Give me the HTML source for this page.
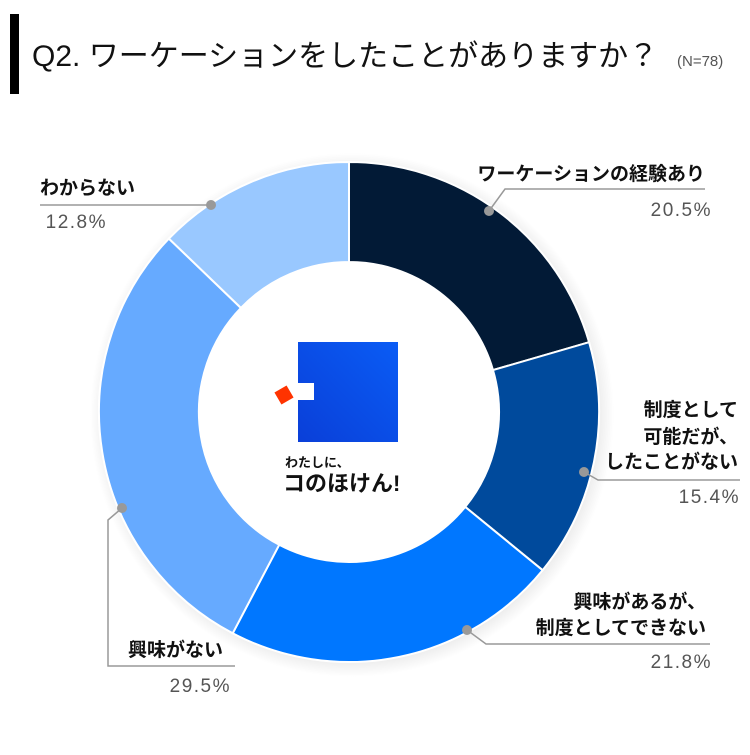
<!DOCTYPE html>
<html><head><meta charset="utf-8"><style>
body{margin:0;background:#fff;width:750px;height:750px;overflow:hidden}
svg text{font-family:"Liberation Sans","Noto Sans CJK JP",sans-serif}
</style></head><body>
<svg width="750" height="750" viewBox="0 0 750 750">
<rect x="10" y="14" width="9" height="80" fill="#000"/>
<text x="32" y="66" font-size="30" fill="#111">Q2. ワーケーションをしたことがありますか？</text>
<text x="677" y="66" font-size="15" fill="#555">(N=78)</text>
<defs><radialGradient id="sh" cx="0.5" cy="0.5" r="0.5"><stop offset="0.9" stop-color="#000" stop-opacity="0.12"/><stop offset="1" stop-color="#000" stop-opacity="0"/></radialGradient>
<linearGradient id="lg" x1="0" y1="1" x2="1" y2="0"><stop offset="0" stop-color="#0a3fd8"/><stop offset="1" stop-color="#0a5cf5"/></linearGradient></defs>
<circle cx="352" cy="415" r="262" fill="url(#sh)"/>
<circle cx="349" cy="412" r="151" fill="#fff"/>
<g stroke="#fff" stroke-width="2">
<path d="M349,162 A250,250 0 0 1 589.1,342.2 L493,370.1 A150,150 0 0 0 349,262 Z" fill="#021a36"/>
<path d="M589.1,342.2 A250,250 0 0 1 542.6,570.2 L465.2,506.9 A150,150 0 0 0 493,370.1 Z" fill="#004a9c"/>
<path d="M542.6,570.2 A250,250 0 0 1 232.7,633.3 L279.2,544.8 A150,150 0 0 0 465.2,506.9 Z" fill="#0077ff"/>
<path d="M232.7,633.3 A250,250 0 0 1 168.9,238.6 L240.9,307.9 A150,150 0 0 0 279.2,544.8 Z" fill="#66aaff"/>
<path d="M168.9,238.6 A250,250 0 0 1 349,162 L349,262 A150,150 0 0 0 240.9,307.9 Z" fill="#99c8ff"/>
</g>
<rect x="298" y="342" width="100" height="100" fill="url(#lg)"/>
<rect x="298" y="383" width="16" height="17" fill="#fff"/>
<rect x="277" y="388" width="14" height="14" fill="#ff3300" transform="rotate(-30 284 395)"/>
<text x="285" y="467" font-size="13" font-weight="bold" fill="#111">わたしに、</text>
<text x="283" y="491" font-size="22" font-weight="bold" fill="#111">コのほけん!</text>
<g stroke="#999" stroke-width="1.5" fill="none">
<polyline points="489,211 505,189 705,189"/>
<polyline points="584,472 598,480 740,480"/>
<polyline points="467,630 486,644 710,644"/>
<polyline points="122,508 108,520 108,666 235,666"/>
<polyline points="211,205 40,205"/>
</g>
<g fill="#999"><circle cx="489" cy="211" r="5"/><circle cx="584" cy="472" r="5"/><circle cx="467" cy="630" r="5"/><circle cx="122" cy="508" r="5"/><circle cx="211" cy="205" r="5"/></g>
<g font-size="19" font-weight="bold" fill="#111" text-anchor="end">
<text x="705" y="180">ワーケーションの経験あり</text>
<text x="738" y="416">制度として</text>
<text x="738" y="443">可能だが、</text>
<text x="738" y="468">したことがない</text>
<text x="706" y="608">興味があるが、</text>
<text x="706" y="634">制度としてできない</text>
</g>
<g font-size="19" font-weight="bold" fill="#111"><text x="40" y="194">わからない</text><text x="128" y="656">興味がない</text></g>
<g font-size="19" fill="#555" text-anchor="end" letter-spacing="1.5">
<text x="712" y="216">20.5%</text><text x="740" y="503">15.4%</text><text x="712" y="668">21.8%</text>
<text x="231" y="692">29.5%</text><text x="107" y="228">12.8%</text>
</g>
</svg>
</body></html>
